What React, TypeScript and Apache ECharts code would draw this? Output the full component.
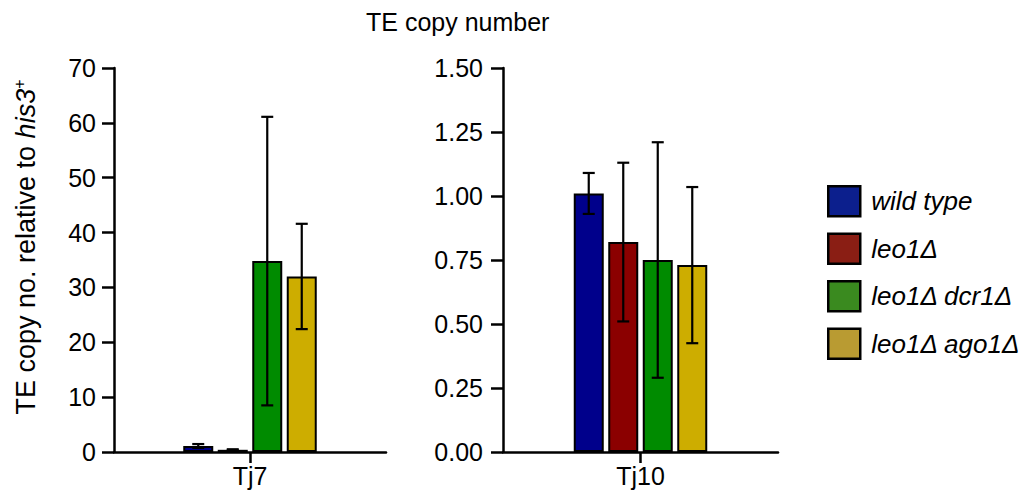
import React, { useEffect, useRef } from "react";
import * as echarts from "echarts";

const seriesNames = ["wild type", "leo1Δ", "leo1Δ dcr1Δ", "leo1Δ ago1Δ"];
const barColors = ["#00008B", "#8B0000", "#008B00", "#CDAD00"];
const legendColors = ["#0C1F8D", "#8A1E14", "#3A8A1F", "#B99B32"];

const leftCategory = ["Tj7"];
const tj7Mean = [1.1, 0.4, 34.8, 32.0];
const tj7Sd = [0.35, 0.1, 26.3, 9.6];

const rightCategory = ["Tj10"];
const tj10Mean = [1.01, 0.82, 0.75, 0.73];
const tj10Sd = [0.08, 0.31, 0.46, 0.305];

const leftTicks = { min: 0, max: 70, interval: 10 };
const rightTicks = { min: 0, max: 1.5, interval: 0.25 };

const FONT = "'Liberation Sans', Arial, sans-serif";
const BAR_W = 30;
const BAR_GAP = 0.15;
const PITCH = BAR_W * (1 + BAR_GAP);

export default function App() {
  const ref = useRef<HTMLDivElement>(null);
  useEffect(() => {
    if (!ref.current) return;
    const chart = echarts.init(ref.current, undefined, { renderer: "svg" });

    const axisLine = { show: true, lineStyle: { color: "#000", width: 2.5 } };
    const axisTick = { show: true, length: 12, lineStyle: { color: "#000", width: 2.5 } };
    const labelStyle = { color: "#000", fontSize: 25, fontFamily: FONT };

    const bars = (gi: number, means: number[]) =>
      means.map((m, i) => ({
        type: "bar",
        name: seriesNames[i],
        xAxisIndex: gi,
        yAxisIndex: gi,
        barWidth: BAR_W,
        barGap: BAR_GAP * 100 + "%",
        data: [m],
        itemStyle: { color: barColors[i], borderColor: "#000", borderWidth: 2 },
      }));

    const errs = (gi: number, means: number[], sds: number[]) => ({
      type: "custom",
      xAxisIndex: gi,
      yAxisIndex: gi,
      z: 10,
      silent: true,
      data: means.map((m, i) => [0, m - sds[i], m + sds[i], i]),
      encode: { x: 0, y: [1, 2] },
      renderItem: (_p: any, api: any) => {
        const si = api.value(3);
        const lo = api.coord([api.value(0), api.value(1)]);
        const hi = api.coord([api.value(0), api.value(2)]);
        const x = lo[0] + (si - 1.5) * PITCH;
        const st = { stroke: "#000", lineWidth: 2.2 };
        return {
          type: "group",
          children: [
            { type: "line", shape: { x1: x, y1: lo[1], x2: x, y2: hi[1] }, style: st },
            { type: "line", shape: { x1: x - 6, y1: lo[1], x2: x + 6, y2: lo[1] }, style: st },
            { type: "line", shape: { x1: x - 6, y1: hi[1], x2: x + 6, y2: hi[1] }, style: st },
          ],
        };
      },
    });

    const xAxisCommon = {
      type: "category",
      boundaryGap: true,
      axisLine,
      axisTick: { ...axisTick, length: 11, alignWithLabel: true },
      axisLabel: { ...labelStyle, margin: 11 },
      splitLine: { show: false },
    };

    chart.setOption({
      animation: false,
      backgroundColor: "#fff",
      title: {
        text: "TE copy number",
        left: 361,
        top: 4,
        textStyle: { color: "#000", fontSize: 25, fontWeight: "normal", fontFamily: FONT },
      },
      legend: {
        orient: "vertical",
        left: 822,
        top: 180,
        itemWidth: 32,
        itemHeight: 30,
        itemGap: 15,
        icon: "rect",
        textStyle: { color: "#000", fontSize: 26, fontStyle: "italic", fontFamily: FONT, padding: [0, 0, 0, 6] },
        data: seriesNames.map((n, i) => ({
          name: n,
          itemStyle: { color: legendColors[i], borderColor: "#000", borderWidth: 2.5 },
        })),
      },
      grid: [
        { left: 114, top: 68, width: 272, height: 384 },
        { left: 503, top: 68, width: 275, height: 384 },
      ],
      xAxis: [
        { ...xAxisCommon, gridIndex: 0, data: leftCategory },
        { ...xAxisCommon, gridIndex: 1, data: rightCategory },
      ],
      yAxis: [
        {
          type: "value",
          gridIndex: 0,
          ...leftTicks,
          axisLine,
          axisTick,
          splitLine: { show: false },
          axisLabel: { ...labelStyle, margin: 18 },
        },
        {
          type: "value",
          gridIndex: 1,
          ...rightTicks,
          axisLine,
          axisTick,
          splitLine: { show: false },
          axisLabel: { ...labelStyle, margin: 20, formatter: (v: number) => v.toFixed(2) },
        },
      ],
      graphic: [
        {
          type: "text",
          x: 26,
          y: 247,
          rotation: Math.PI / 2,
          style: {
            text: "{a|TE copy no. relative to }{i|his3}{s|+}",
            align: "center",
            verticalAlign: "middle",
            fill: "#000",
            rich: {
              a: { fontSize: 27, fontFamily: FONT, fill: "#000", lineHeight: 30 },
              i: { fontSize: 27, fontFamily: FONT, fontStyle: "italic", fill: "#000", lineHeight: 30 },
              s: { fontSize: 16, fontFamily: FONT, fill: "#000", verticalAlign: "top", lineHeight: 30 },
            },
          },
        },
      ],
      series: [
        ...bars(0, tj7Mean),
        ...bars(1, tj10Mean),
        errs(0, tj7Mean, tj7Sd),
        errs(1, tj10Mean, tj10Sd),
      ],
    });
    return () => chart.dispose();
  }, []);
  return (
    <div
      ref={ref}
      style={{ position: "fixed", left: 0, top: 0, width: 1026, height: 492 }}
    />
  );
}
